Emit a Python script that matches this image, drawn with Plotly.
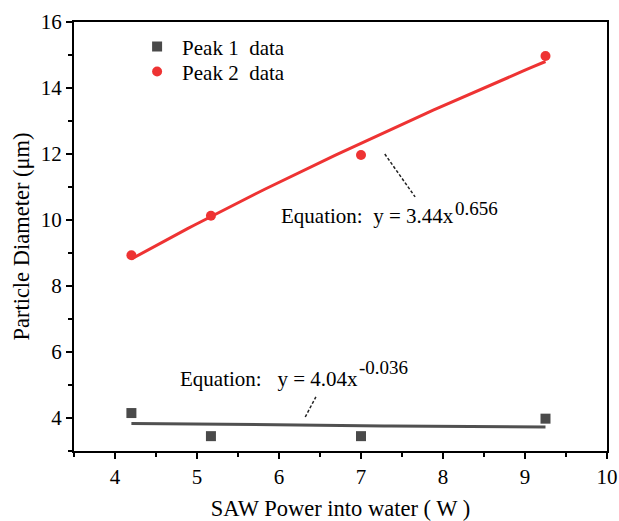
import numpy as np
import plotly.graph_objects as go

# Measured particle diameters versus SAW power
power = [4.2, 5.17, 7.0, 9.25]
peak1_diam = [4.15, 3.45, 3.45, 3.98]
peak2_diam = [8.93, 10.13, 11.97, 14.97]

# Power-law fit coefficients: y = a * x^b
peak1_fit = (4.04, -0.036)
peak2_fit = (3.44, 0.656)

x_ticks = [4, 5, 6, 7, 8, 9, 10]
y_ticks = [4, 6, 8, 10, 12, 14, 16]

FONT = "Liberation Serif"

xf = np.linspace(min(power), max(power), 60)
fit1 = peak1_fit[0] * xf ** peak1_fit[1]
fit2 = peak2_fit[0] * xf ** peak2_fit[1]

fig = go.Figure()

fig.add_trace(go.Scatter(x=xf, y=fit1, mode="lines",
                         line=dict(color="#505050", width=3),
                         showlegend=False, hoverinfo="skip"))
fig.add_trace(go.Scatter(x=xf, y=fit2, mode="lines",
                         line=dict(color="#ee3333", width=3),
                         showlegend=False, hoverinfo="skip"))

fig.add_trace(go.Scatter(x=power, y=peak1_diam, mode="markers",
                         name="Peak 1\u00a0\u00a0data", legend="legend",
                         marker=dict(symbol="square", size=10, color="#4a4a4a")))
fig.add_trace(go.Scatter(x=power, y=peak2_diam, mode="markers",
                         name="Peak 2\u00a0\u00a0data", legend="legend2",
                         marker=dict(symbol="circle", size=10, color="#ee3333")))

# Dashed leader lines pointing from the equations to their fit curves
fig.add_shape(type="line", x0=7.29, y0=12.0, x1=7.66, y1=10.7,
              line=dict(color="#222222", width=1.5, dash="3px,2px"))
fig.add_shape(type="line", x0=6.32, y0=4.03, x1=6.45, y1=4.64,
              line=dict(color="#222222", width=1.5, dash="3px,2px"))


def equation(x_end, y_main, y_sup, body, power_txt):
    fig.add_annotation(x=x_end, y=y_main, xref="x", yref="y", showarrow=False,
                       xanchor="right", yanchor="middle", text=body,
                       font=dict(family=FONT, size=21, color="black"))
    fig.add_annotation(x=x_end, y=y_sup, xref="x", yref="y", showarrow=False,
                       xanchor="left", yanchor="middle", text=power_txt, xshift=-3,
                       font=dict(family=FONT, size=19, color="black"))


equation(8.155, 10.13, 10.36, "Equation:\u00a0 y = 3.44x", "0.656")
equation(6.99, 5.19, 5.53, "Equation:\u00a0\u00a0 y = 4.04x", "-0.036")

axis_common = dict(showline=True, linecolor="black", linewidth=2, mirror=True,
                   ticks="outside", ticklen=6, tickwidth=1.5, tickcolor="black",
                   showgrid=False, zeroline=False, automargin=False,
                   tickfont=dict(family=FONT, size=21, color="black"),
                   minor=dict(ticks="outside", ticklen=4, tickwidth=1.5,
                              tickcolor="black", showgrid=False))

fig.update_xaxes(range=[3.5, 10], tickvals=x_ticks,
                 title=dict(text="SAW Power into water ( W )", standoff=13,
                            font=dict(family=FONT, size=22.5, color="black")),
                 **axis_common)
fig.update_yaxes(range=[3, 16], tickvals=y_ticks,
                 title=dict(text="Particle Diameter (μm)", standoff=5,
                            font=dict(family=FONT, size=22.5, color="black")),
                 **axis_common)
fig.update_xaxes(minor=dict(dtick=0.5))
fig.update_yaxes(minor=dict(dtick=1))

legend_style = dict(xanchor="left", yanchor="middle", bgcolor="rgba(0,0,0,0)",
                    itemwidth=40, font=dict(family=FONT, size=21, color="black"))

fig.update_layout(
    width=619, height=521,
    margin=dict(l=74, r=12, t=22, b=70),
    paper_bgcolor="white", plot_bgcolor="white",
    legend=dict(x=0.109, y=0.942, **legend_style),
    legend2=dict(x=0.109, y=0.884, **legend_style),
)

fig.write_html("out.html")
